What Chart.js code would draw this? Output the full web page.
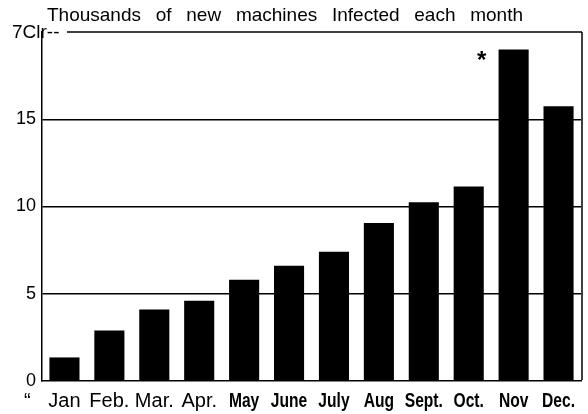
<!DOCTYPE html>
<html>
<head>
<meta charset="utf-8">
<script src="https://cdn.jsdelivr.net/npm/chart.js@4.4.1/dist/chart.umd.min.js"></script>
<style>
  html, body { margin: 0; padding: 0; background: #fff; }
  #wrap { width: 588px; height: 414px; }
</style>
</head>
<body>
<div id="wrap"><canvas id="chartInfected" width="588" height="414"></canvas></div>
<script>
// data (thousands of machines)
const months = ['Jan', 'Feb.', 'Mar.', 'Apr.', 'May', 'June', 'July', 'Aug', 'Sept.', 'Oct.', 'Nov', 'Dec.'];
const infected = [1.35, 2.9, 4.1, 4.6, 5.8, 6.6, 7.4, 9.05, 10.25, 11.15, 19.0, 15.75];
const yTicks = [0, 5, 10, 15, 20];
const topTickText = '7Clr--';
const titleText = 'Thousands of new machines Infected each month';
const starMonth = 'Nov';

const ink = '#000';
const plain = '"Liberation Sans", Arial, sans-serif';

// extras drawn on top: title, month labels, odd top label, frame, asterisk
const scanExtras = {
    id: 'scanExtras',
    afterDraw: function(chart) {
        const ctx = chart.ctx;
        const area = chart.chartArea;
        const y = chart.scales.y;
        const xs = chart.scales.x;
        ctx.save();
        ctx.fillStyle = ink;
        ctx.strokeStyle = ink;

        // title, words spread from 47 to 523
        ctx.font = '19px ' + plain;
        ctx.textBaseline = 'alphabetic';
        ctx.textAlign = 'left';
        const words = titleText.split(' ');
        const widths = words.map(function(w) { return ctx.measureText(w).width; });
        const total = widths.reduce(function(a, b) { return a + b; }, 0);
        const gap = (523 - 47 - total) / (words.length - 1);
        let x = 47;
        words.forEach(function(w, i) {
            ctx.fillText(w, x, 21);
            x += widths[i] + gap;
        });

        // month labels: first four plain, the rest bold and squeezed
        ctx.textAlign = 'center';
        months.forEach(function(m, i) {
            const px = xs.getPixelForValue(i);
            if (i < 4) {
                ctx.font = '20px ' + plain;
                ctx.fillText(m, px, 407);
            } else {
                ctx.save();
                ctx.font = 'bold 20px ' + plain;
                ctx.translate(px, 407);
                ctx.scale(0.78, 1);
                ctx.fillText(m, 0, 0);
                ctx.restore();
            }
        });

        // stray quote in front of Jan
        ctx.textAlign = 'left';
        ctx.font = '20px ' + plain;
        ctx.fillText('\u201C', 24, 407);

        // top label and top / right frame lines
        const yTop = y.getPixelForValue(yTicks[yTicks.length - 1]);
        ctx.font = '19px ' + plain;
        ctx.textBaseline = 'middle';
        ctx.fillText(topTickText, 12, yTop + 1);
        ctx.lineWidth = 1.5;
        ctx.beginPath();
        ctx.moveTo(67, yTop);
        ctx.lineTo(area.right + 1, yTop);
        ctx.moveTo(area.right + 1, yTop);
        ctx.lineTo(area.right + 1, area.bottom - 1);
        ctx.stroke();

        // asterisk next to the Nov bar
        const i = months.indexOf(starMonth);
        const bar = chart.getDatasetMeta(0).data[i];
        ctx.font = 'bold 24px ' + plain;
        ctx.textAlign = 'center';
        ctx.textBaseline = 'alphabetic';
        ctx.fillText('*', bar.x - 32, bar.y + 19);
        ctx.restore();
    }
};

const ctx = document.getElementById('chartInfected');
new Chart(ctx, {
    type: 'bar',
    data: {
        labels: months,
        datasets: [{
            data: infected,
            backgroundColor: ink,
            borderWidth: 0,
            barPercentage: 0.67,
            categoryPercentage: 1.0
        }]
    },
    options: {
        responsive: false,
        animation: false,
        layout: { padding: { top: 32, right: 7, left: 0, bottom: 0 } },
        plugins: {
            legend: { display: false },
            title: { display: false },
            tooltip: { enabled: false }
        },
        scales: {
            x: {
                grid: { display: false },
                border: { display: true, color: ink, width: 1.5 },
                ticks: { display: false },
                afterFit: function(scale) { scale.height = 33; }
            },
            y: {
                min: 0,
                max: 20,
                afterBuildTicks: function(scale) {
                    scale.ticks = yTicks.map(function(v) { return { value: v }; });
                },
                ticks: {
                    color: ink,
                    padding: 6,
                    font: { family: plain, size: 18 },
                    callback: function(v) { return v === 20 ? '' : v; }
                },
                grid: {
                    drawTicks: false,
                    lineWidth: 1.5,
                    color: function(c) {
                        const v = c.tick ? c.tick.value : null;
                        return (v === 0 || v === 20) ? 'rgba(0,0,0,0)' : ink;
                    }
                },
                border: { display: true, color: ink, width: 1.5 },
                afterFit: function(scale) { scale.width = 42; }
            }
        }
    },
    plugins: [scanExtras]
});
</script>
</body>
</html>
